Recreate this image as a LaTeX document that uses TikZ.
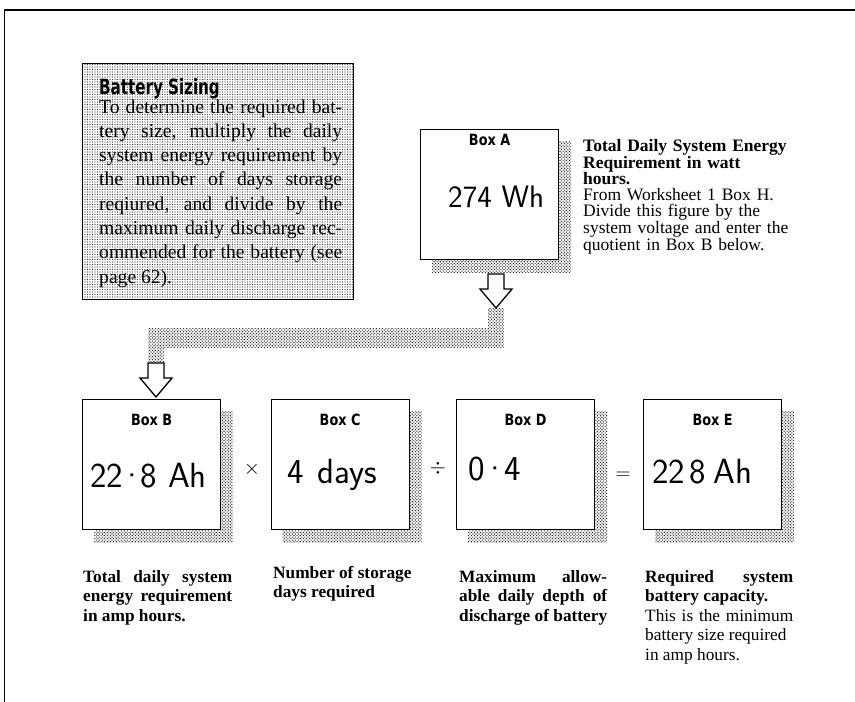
\documentclass[tikz,border=0pt]{standalone}
\usepackage{fontspec}
\setmainfont{Liberation Serif}
\newfontfamily\titlefont{DejaVu Sans Condensed}[FakeStretch=0.8]
\newfontfamily\labelfont{DejaVu Sans Condensed}[FakeStretch=0.92]
\usetikzlibrary{patterns.meta,backgrounds}
\setlength{\lineskiplimit}{-20pt}
\begin{document}
\begin{tikzpicture}[x=1pt,y=-1pt,
  valbox/.style={draw, line width=1.2pt, fill=white, minimum width=138pt, minimum height=130pt, inner sep=0pt, anchor=north west},
  boxlabel/.style={font=\labelfont\bfseries\fontsize{15.5}{15.5}\selectfont, anchor=base, inner sep=0pt},
  handval/.style={font=\sffamily\fontsize{31}{31}\selectfont, anchor=base west, inner sep=0pt},
  bighand/.style={handval, font=\sffamily\fontsize{35}{35}\selectfont},
  oper/.style={font=\fontsize{20}{20}\selectfont, inner sep=0pt},
  shadowfill/.style={pattern={Dots[distance=2.2pt, radius=0.75pt, angle=45]}, pattern color=black!85},
  caption/.style={font=\fontsize{17.3}{19.5}\selectfont, anchor=base west, inner sep=0pt, align=justify, text width=148pt},
  blockarrow/.style={draw, line width=1.3pt, fill=white, line join=miter},
]
\useasboundingbox (0,0) rectangle (855,702);
% frame
\draw[line width=1.6pt] (4.5,702) -- (4.5,10) -- (855,10);

% battery sizing panel
\node[draw, line width=1.2pt, pattern={Dots[distance=2.5pt, radius=0.55pt]}, pattern color=black!80,
      minimum width=271pt, minimum height=236pt, anchor=north west, inner sep=0pt] (sizing) at (82,63) {};
\node[font=\titlefont\bfseries\fontsize{21}{21}\selectfont, anchor=base west, inner sep=0pt] (title) at (99,94) {Battery Sizing};
\node[anchor=base west, inner sep=0pt, text width=243pt, align=justify,
      font=\fontsize{19.6}{24.3}\selectfont] (sizetext) at (99,113)
  {To determine the required bat-\linebreak tery size, multiply the daily\linebreak system energy requirement by\linebreak the number of days storage\linebreak reqiured, and divide by the\linebreak maximum daily discharge rec-\linebreak ommended for the battery (see\linebreak page 62).};

% boxes
\node[valbox] (A) at (420,129) {};
\node[valbox] (B) at (82,399) {};
\node[valbox] (C) at (270.5,399) {};
\node[valbox] (D) at (456,399) {};
\node[valbox] (E) at (643,399) {};

\begin{scope}[on background layer]
  \fill[white] (0,0) rectangle (855,702);
  \foreach \n in {A,B,C,D,E}
    \fill[shadowfill] ([shift={(12pt,-12pt)}]\n.south west) rectangle ([shift={(12pt,-12pt)}]\n.north east);
\end{scope}

\node[boxlabel] (labA) at ([yshift=-16pt]A.north) {Box A};
\node[boxlabel] (labB) at ([yshift=-26pt]B.north) {Box B};
\node[boxlabel] (labC) at ([yshift=-26pt]C.north) {Box C};
\node[boxlabel] (labD) at ([yshift=-26pt]D.north) {Box D};
\node[boxlabel] (labE) at ([yshift=-26pt]E.north) {Box E};

\node[handval] (valA) at (448,207) {274 Wh};
\node[bighand] (valB) at (90,487) {22\kern-4pt·\kern-4pt8 Ah};
\node[bighand] (valC) at (287,483) {4\hspace{14pt}days};
\node[bighand] (valD) at (468,480) {0\kern-2pt·\kern-4pt4};
\node[bighand] (valE) at (652,483) {22\kern4pt8\kern8pt Ah};

\node[oper] (times) at (252,469) {$\times$};
\node[oper] (divide) at (438,468) {$\div$};
\node[oper] (equals) at (623,476) {$=$};

% connector band
\coordinate (tipA) at (496,308);
\coordinate (tipB) at (156,397);
\coordinate (tailB) at (156,363);
\coordinate (jA) at (496,338);
\coordinate (jB) at (156,338);
\fill[shadowfill] ([xshift=-8pt]tipA) -- ([xshift=8pt]tipA) -- ([shift={(8pt,-10pt)}]jA)
  -- ([shift={(8pt,-10pt)}]jB) -- ([xshift=8pt]tailB) -- ([xshift=-8pt]tailB)
  -- ([shift={(-8pt,10pt)}]jB) -- ([shift={(-8pt,10pt)}]jA) -- cycle;

% block arrows
\draw[blockarrow] (tipA) -- ++(-16,-19) -- ++(8,0) -- ++(0,-15) -- ++(16,0) -- ++(0,15) -- ++(8,0) -- cycle;
\draw[blockarrow] (tipB) -- ++(-16,-19) -- ++(8,0) -- ++(0,-15) -- ++(16,0) -- ++(0,15) -- ++(8,0) -- cycle;

% side text for box A
\node[anchor=base west, inner sep=0pt, text width=235pt, align=left,
      font=\fontsize{17.5}{15.8}\selectfont] (notesA) at (583,151)
  {\textbf{Total Daily System Energy}\\ \textbf{Requirement in watt}\\ \textbf{hours.}\\ From Worksheet 1 Box H.\\ Divide this figure by the\\ system voltage and enter the\\ quotient in Box B below.};

% captions
\node[caption, text width=149pt] (capB) at (83,582) {\bfseries Total daily system\linebreak energy requirement\linebreak in amp hours.};
\node[caption] (capC) at (273,578) {\bfseries Number of storage\\ days required};
\node[caption] (capD) at (459,582) {\bfseries Maximum allow-\linebreak able daily depth of\linebreak discharge of battery};
\node[caption] (capE) at (645,582) {\textbf{Required system}\linebreak \textbf{battery capacity.}\\ This is the minimum\linebreak battery size required\\ in amp hours.};
\end{tikzpicture}
\end{document}
